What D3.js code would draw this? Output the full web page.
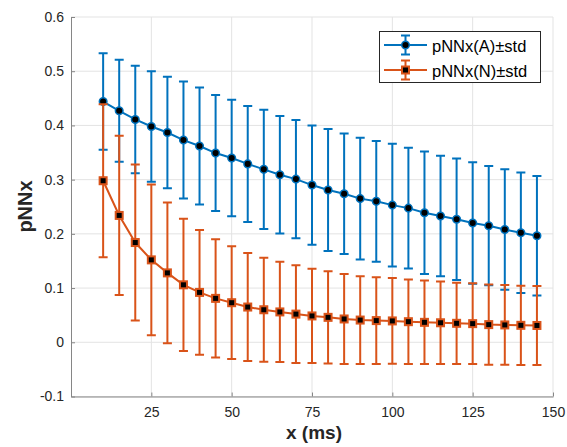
<!DOCTYPE html>
<html>
<head>
<meta charset="utf-8">
<script src="https://cdn.jsdelivr.net/npm/d3@7"></script>
<style>
  body { margin: 0; background: #fff; }
  svg { display: block; font-family: "Liberation Sans", Arial, sans-serif; }
</style>
</head>
<body>
<svg class="chart"></svg>
<script>
var width = 567,
    height = 447;

// data
var xValues = [10, 15, 20, 25, 30, 35, 40, 45, 50, 55, 60, 65, 70, 75,
               80, 85, 90, 95, 100, 105, 110, 115, 120, 125, 130, 135, 140, 145];
var meanA = [0.444, 0.427, 0.411, 0.398, 0.387, 0.373, 0.362, 0.349, 0.340, 0.329,
             0.319, 0.309, 0.301, 0.290, 0.281, 0.274, 0.265, 0.260, 0.253, 0.2475,
             0.239, 0.233, 0.227, 0.220, 0.215, 0.208, 0.202, 0.1965];
var stdA = [0.089, 0.094, 0.099, 0.102, 0.103, 0.108, 0.108, 0.107, 0.1075, 0.107,
            0.110, 0.1085, 0.109, 0.110, 0.1125, 0.111, 0.1125, 0.1115, 0.113, 0.1115,
            0.113, 0.111, 0.112, 0.112, 0.110, 0.111, 0.111, 0.110];
var meanN = [0.298, 0.234, 0.184, 0.152, 0.128, 0.106, 0.092, 0.081, 0.073, 0.065,
             0.060, 0.056, 0.052, 0.0486, 0.046, 0.043, 0.041, 0.040, 0.0394, 0.038,
             0.0368, 0.036, 0.035, 0.0344, 0.0326, 0.032, 0.0313, 0.031];
var stdN = [0.141, 0.147, 0.144, 0.139, 0.130, 0.122, 0.115, 0.109, 0.104, 0.0995,
            0.096, 0.0925, 0.090, 0.087, 0.085, 0.083, 0.081, 0.080, 0.079, 0.078,
            0.077, 0.076, 0.075, 0.0745, 0.074, 0.0735, 0.073, 0.073];
var xTicks = [25, 50, 75, 100, 125, 150];
var yTicks = [-0.1, 0, 0.1, 0.2, 0.3, 0.4, 0.5, 0.6];
var seriesNames = ["pNNx(A)\u00b1std", "pNNx(N)\u00b1std"];

var blue = "#0072bd",
    orange = "#d95319",
    textColor = "#262626",
    capHalf = 4.5;

var svg = d3.select(".chart")
    .attr("width", width)
    .attr("height", height);

var x = d3.scaleLinear().domain([0, 150]).range([71, 553]);
var y = d3.scaleLinear().domain([-0.1, 0.6]).range([396.5, 17]);

// grid
svg.append("g").selectAll("line")
    .data(xTicks)
    .enter()
    .append("line")
    .attr("x1", function (d) { return x(d); })
    .attr("x2", function (d) { return x(d); })
    .attr("y1", y(-0.1))
    .attr("y2", y(0.6))
    .attr("stroke", "#e3e3e3");

svg.append("g").selectAll("line")
    .data(yTicks)
    .enter()
    .append("line")
    .attr("x1", x(0))
    .attr("x2", x(150))
    .attr("y1", function (d) { return y(d); })
    .attr("y2", function (d) { return y(d); })
    .attr("stroke", "#e3e3e3");

// axes
var xAxis = svg.append("g")
    .attr("transform", "translate(0," + y(-0.1) + ")")
    .call(d3.axisBottom(x).tickValues(xTicks).tickSizeInner(-4).tickSizeOuter(0).tickPadding(11));

var yAxis = svg.append("g")
    .attr("transform", "translate(" + x(0) + ",0)")
    .call(d3.axisLeft(y).tickValues(yTicks).tickSizeInner(-4).tickSizeOuter(0).tickPadding(7)
        .tickFormat(function (d) { return d === 0 ? "0" : d.toFixed(1); }));

[xAxis, yAxis].forEach(function (g) {
    g.select(".domain").attr("stroke", "#868686").attr("stroke-width", 1);
    g.selectAll(".tick line").attr("stroke", "#868686");
    g.selectAll("text")
        .attr("fill", textColor)
        .attr("font-size", 14)
        .attr("font-family", "Liberation Sans, Arial, sans-serif");
});

svg.append("text")
    .text("x (ms)")
    .attr("x", 314)
    .attr("y", 438.5)
    .attr("text-anchor", "middle")
    .attr("font-weight", "bold")
    .attr("font-size", 19)
    .attr("fill", textColor);

svg.append("text")
    .text("pNNx")
    .attr("transform", "translate(31.5,206.5) rotate(-90)")
    .attr("text-anchor", "middle")
    .attr("font-weight", "bold")
    .attr("font-size", 20)
    .attr("fill", textColor);

function drawSeries(means, stds, color, shape) {
    var pts = xValues.map(function (d, i) {
        return { x: d, m: means[i], s: stds[i] };
    });
    var g = svg.append("g");

    g.append("path")
        .datum(pts)
        .attr("fill", "none")
        .attr("stroke", color)
        .attr("stroke-width", 2)
        .attr("d", d3.line()
            .x(function (d) { return x(d.x); })
            .y(function (d) { return y(d.m); }));

    var bars = g.selectAll(".bar")
        .data(pts)
        .enter()
        .append("path")
        .attr("class", "bar")
        .attr("fill", "none")
        .attr("stroke", color)
        .attr("stroke-width", 2)
        .attr("d", function (d) {
            var cx = x(d.x), top = y(d.m + d.s), bot = y(d.m - d.s);
            return "M" + cx + "," + top + "V" + bot +
                "M" + (cx - capHalf) + "," + top + "H" + (cx + capHalf) +
                "M" + (cx - capHalf) + "," + bot + "H" + (cx + capHalf);
        });

    if (shape === "circle") {
        g.selectAll(".mark")
            .data(pts)
            .enter()
            .append("circle")
            .attr("class", "mark")
            .attr("cx", function (d) { return x(d.x); })
            .attr("cy", function (d) { return y(d.m); })
            .attr("r", 3.8)
            .attr("fill", "#000")
            .attr("stroke", color)
            .attr("stroke-width", 1.5);
    } else {
        g.selectAll(".mark")
            .data(pts)
            .enter()
            .append("rect")
            .attr("class", "mark")
            .attr("x", function (d) { return x(d.x) - 3.5; })
            .attr("y", function (d) { return y(d.m) - 3.5; })
            .attr("width", 7)
            .attr("height", 7)
            .attr("fill", "#000")
            .attr("stroke", color)
            .attr("stroke-width", 2);
    }
}

drawSeries(meanA, stdA, blue, "circle");
drawSeries(meanN, stdN, orange, "square");

// legend
var legend = svg.append("g");
legend.append("rect")
    .attr("x", 379.5)
    .attr("y", 31.5)
    .attr("width", 161)
    .attr("height", 51)
    .attr("fill", "#fff")
    .attr("stroke", textColor)
    .attr("stroke-width", 1);

var legendItems = legend.selectAll(".item")
    .data(seriesNames)
    .enter()
    .append("g")
    .attr("class", "item")
    .attr("transform", function (d, i) { return "translate(0," + (45 + i * 25) + ")"; });

legendItems.each(function (d, i) {
    var item = d3.select(this);
    var color = i === 0 ? blue : orange;
    item.append("path")
        .attr("fill", "none")
        .attr("stroke", color)
        .attr("stroke-width", 2)
        .attr("d", "M384,0H427M405.5,-9.5V9.5M" + (405.5 - capHalf) + ",-9.5H" + (405.5 + capHalf) +
            "M" + (405.5 - capHalf) + ",9.5H" + (405.5 + capHalf));
    if (i === 0) {
        item.append("circle")
            .attr("cx", 405.5).attr("cy", 0).attr("r", 3.8)
            .attr("fill", "#000").attr("stroke", color).attr("stroke-width", 1.5);
    } else {
        item.append("rect")
            .attr("x", 402).attr("y", -3.5).attr("width", 7).attr("height", 7)
            .attr("fill", "#000").attr("stroke", color).attr("stroke-width", 2);
    }
    item.append("text")
        .text(d)
        .attr("x", 432)
        .attr("y", 6.5)
        .attr("font-size", 16.5)
        .attr("fill", "#000");
});
</script>
</body>
</html>
